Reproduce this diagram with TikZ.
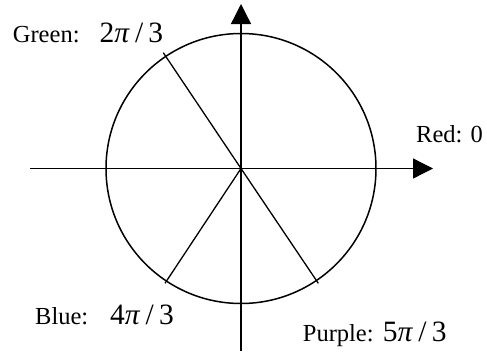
\documentclass[tikz,border=0pt]{standalone}
\usepackage{fontspec}
\setmainfont{Liberation Serif}
\usetikzlibrary{arrows.meta}
\newcommand{\frc}[1]{#1\textit{π}\hspace{0.18em}/\hspace{0.18em}3}
\begin{document}
\begin{tikzpicture}[x=1pt,y=-1pt,
  lbl/.style={anchor=base west,inner sep=0pt,font=\fontsize{24.5}{28}\selectfont},
  mth/.style={anchor=base west,inner sep=0pt,font=\fontsize{29.5}{32}\selectfont},
  axis/.style={line width=1.3pt,-{Triangle[length=20pt,width=20pt]}},
  ray/.style={line width=1.3pt},
  circ/.style={line width=1.5pt}]
\useasboundingbox (0,0) rectangle (487,351);
\coordinate (O) at (241,168.5);
\coordinate (xl) at (30,168.5);
\coordinate (xr) at (433,168.5);
\coordinate (yb) at (241,351);
\coordinate (yt) at (241,4);
\draw[axis] (xl) -- (xr);
\draw[axis] (yb) -- (yt);
\draw[circ] (O) circle[radius=135];
\draw[ray] (O) -- ++(-77.7,-115.8) coordinate (gend);
\draw[ray] (O) -- ++(-76,114.8) coordinate (bend);
\draw[ray] (O) -- ++(77.3,114.8) coordinate (pend);
\node[lbl] (green) at (12.7,42.7) {Green:};
\node[mth] (greenv) at (99.3,42.7) {\frc{2}};
\node[lbl] (red) at (416,142.7) {Red: 0};
\node[lbl] (blue) at (35,324.3) {Blue:};
\node[mth] (bluev) at (110,324.3) {\frc{4}};
\node[lbl] (purple) at (302.7,341.7) {Purple:};
\node[mth] (purplev) at (382.7,341.7) {\frc{5}};
\end{tikzpicture}
\end{document}
